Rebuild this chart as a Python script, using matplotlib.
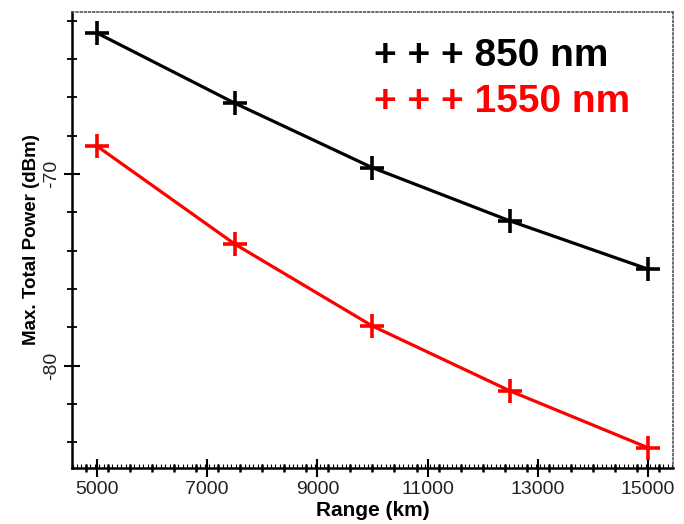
import numpy as np
import matplotlib
matplotlib.use("Agg")
import matplotlib.pyplot as plt
from matplotlib.ticker import MultipleLocator, FixedLocator

plt.rcParams['font.family'] = ['Liberation Sans', 'DejaVu Sans']
plt.rcParams['axes.unicode_minus'] = False

range_km = [5000, 7500, 10000, 12500, 15000]
power_850 = [-62.64, -66.30, -69.67, -72.45, -74.96]
power_1550 = [-68.54, -73.65, -77.93, -81.32, -84.28]
xticks = [5000, 7000, 9000, 11000, 13000, 15000]
yticks = [-70, -80]

fig = plt.figure(figsize=(6.84, 5.24), dpi=100)
ax = fig.add_axes([0.105, 0.1075, 0.879, 0.8702])

ax.plot(range_km, power_850, color='black', lw=2.3, marker='+', ms=17, mew=2.6, clip_on=False, zorder=3)
ax.plot(range_km, power_1550, color='#ff0000', lw=2.3, marker='+', ms=17, mew=2.6, clip_on=False, zorder=3)

ax.set_xlim(4545, 15455)
ax.set_ylim(-85.32, -61.53)

ax.xaxis.set_major_locator(FixedLocator(xticks))
ax.xaxis.set_minor_locator(MultipleLocator(80))
ax.yaxis.set_major_locator(FixedLocator(yticks))
ax.yaxis.set_minor_locator(MultipleLocator(2))

ax.tick_params(axis='x', which='major', direction='inout', length=13, width=1.5, labelsize=14, pad=3, labelcolor='#222222')
ax.tick_params(axis='x', which='minor', direction='in', length=3, width=0.8)
ax.tick_params(axis='y', which='major', direction='inout', length=11, width=1.5, labelsize=14, pad=3, labelrotation=90, labelcolor='#222222')
ax.tick_params(axis='y', which='minor', direction='inout', length=7, width=1.3)
for lab in ax.get_yticklabels():
    lab.set_va('center')

# medium ticks every 400 km on the bottom axis
sec = ax.secondary_xaxis('bottom')
sec.xaxis.set_major_locator(MultipleLocator(400))
sec.tick_params(axis='x', direction='inout', length=6, width=1.8, labelbottom=False)
sec.spines['bottom'].set_visible(False)

for s in ['left', 'bottom']:
    ax.spines[s].set_linewidth(1.8)
    ax.spines[s].set_color('black')
for s in ['top', 'right']:
    ax.spines[s].set_linestyle((0, (1, 1.5)))
    ax.spines[s].set_linewidth(1.2)
    ax.spines[s].set_color('#555555')

ax.set_xlabel('Range (km)', fontsize=15, fontweight='bold', labelpad=2)
ax.set_ylabel('Max. Total Power (dBm)', fontsize=13.5, fontweight='bold', labelpad=2)

ax.text(0.503, 0.902, '+ + + 850 nm', transform=ax.transAxes, fontsize=28, fontweight='bold', color='black', va='center', ha='left')
ax.text(0.503, 0.803, '+ + + 1550 nm', transform=ax.transAxes, fontsize=28, fontweight='bold', color='#ff0000', va='center', ha='left')

fig.savefig('out.png', dpi=100)
